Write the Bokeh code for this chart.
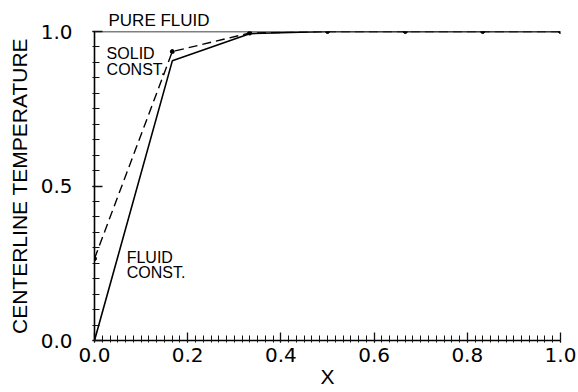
from bokeh.plotting import figure
from bokeh.models import Range1d, FixedTicker, Label
from bokeh.embed import file_html
from bokeh.resources import INLINE

# Data
x_vals = [0.0, 0.167, 0.333, 0.5, 0.667, 0.833, 1.0]
pure_fluid = [1.0, 1.0, 1.0, 1.0, 1.0, 1.0, 1.0]
solid_const = [0.265, 0.935, 0.995, 1.0, 1.0, 1.0, 1.0]
fluid_const = [0.0, 0.905, 0.993, 1.0, 1.0, 1.0, 1.0]

x_major = [0.0, 0.2, 0.4, 0.6, 0.8, 1.0]
x_minor = [i / 60 for i in range(61)]
y_major = [0.0, 0.5, 1.0]
y_minor = [i / 20 for i in range(21)]

TICK_FONT = "DejaVu Sans"
FONT = "Liberation Sans"

p = figure(width=578, height=392, output_backend="svg", toolbar_location=None,
           x_range=Range1d(0, 1), y_range=Range1d(0, 1),
           min_border_left=94, min_border_right=18, min_border_top=31, min_border_bottom=52)
p.outline_line_color = None
p.grid.visible = False
p.background_fill_color = "white"
p.border_fill_color = "white"

p.title.text = "PURE FLUID"
p.title.text_font = FONT
p.title.text_font_size = "17px"
p.title.text_font_style = "normal"
p.title.text_color = "black"
p.title.align = "left"
p.title.offset = 14
p.title.standoff = 3

p.line(x_vals, pure_fluid, line_color="black", line_width=1.6)
p.line(x_vals, fluid_const, line_color="black", line_width=1.6)
p.line(x_vals, solid_const, line_color="black", line_width=1.4, line_dash="9 5")
p.scatter(x_vals, solid_const, size=4, color="black")

for ax in (p.xaxis[0], p.yaxis[0]):
    ax.axis_line_width = 1.6
    ax.axis_line_color = "black"
    ax.major_tick_line_color = "#111111"
    ax.minor_tick_line_color = "#111111"
    ax.major_tick_line_width = 1.3
    ax.minor_tick_line_width = 1
    ax.major_tick_in = 8
    ax.major_tick_out = 2
    ax.minor_tick_in = 5
    ax.minor_tick_out = 2
    ax.major_label_text_font = TICK_FONT
    ax.major_label_text_font_size = "20px"
    ax.major_label_text_color = "black"
    ax.axis_label_text_font = FONT
    ax.axis_label_text_font_size = "21px"
    ax.axis_label_text_font_style = "normal"
    ax.axis_label_text_color = "black"

p.xaxis.ticker = FixedTicker(ticks=x_major, minor_ticks=x_minor)
p.yaxis.ticker = FixedTicker(ticks=y_major, minor_ticks=y_minor)
p.xaxis.major_label_overrides = {0: "0.0", 1: "1.0"}
p.yaxis.major_label_overrides = {0: "0.0", 1: "1.0"}
p.xaxis.major_label_standoff = 5
p.yaxis.major_label_standoff = 20
p.xaxis.axis_label = "X"
p.xaxis.axis_label_standoff = 0
p.yaxis.axis_label = "CENTERLINE TEMPERATURE"
p.yaxis.axis_label_standoff = 7

def dlab(x, y, t, size="16px"):
    p.add_layout(Label(x=x, y=y, text=t, text_font=FONT, text_font_size=size,
                       text_color="black", text_baseline="top", text_align="left"))

dlab(0.026, 0.955, "SOLID")
dlab(0.026, 0.906, "CONST.")
dlab(0.069, 0.295, "FLUID")
dlab(0.069, 0.246, "CONST.")

html = file_html(p, INLINE)
open("out.html", "w").write(html)
